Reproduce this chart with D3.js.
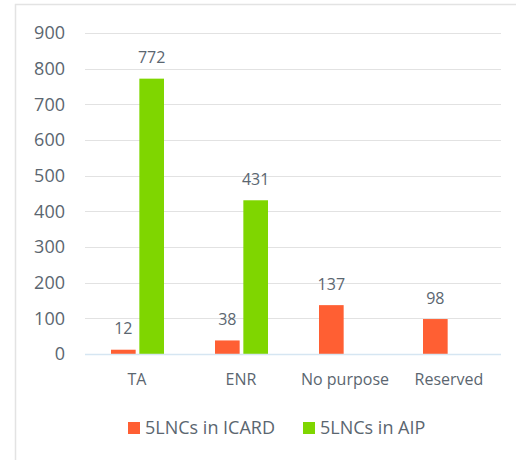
<!DOCTYPE html>
<html lang="en">
<head>
<meta charset="UTF-8">
<title>5LNCs chart</title>
<script src="https://d3js.org/d3.v7.min.js"></script>
<style>
  body { margin: 0; background: #fff; }
  text { font-family: "Open Sans", sans-serif; fill: #5b6670; }
</style>
</head>
<body>
<svg width="516" height="460"></svg>
<script>
const categories = ["TA", "ENR", "No purpose", "Reserved"];
const seriesNames = ["5LNCs in ICARD", "5LNCs in AIP"];
const icard = [12, 38, 137, 98];
const aip = [772, 431, null, null];
const yTicks = [0, 100, 200, 300, 400, 500, 600, 700, 800, 900];
const colors = ["#ff5f33", "#7fd600"];

const svg = d3.select("svg");

// outer frame
svg.append("path")
   .attr("d", "M15.5,460 V4.5 H516")
   .attr("fill", "none")
   .attr("stroke", "#e3e3e3")
   .attr("stroke-width", 1.5);

const x = d3.scaleBand().domain(categories).range([85, 501]);
const y = d3.scaleLinear().domain([0, 900]).range([354, 33]);
const xs = d3.scaleBand().domain(seriesNames).range([26, 79]).paddingInner(0.13);

// gridlines
svg.append("g").selectAll("line")
   .data(yTicks.filter(d => d > 0))
   .join("line")
   .attr("x1", 85).attr("x2", 501)
   .attr("y1", d => Math.round(y(d)) + 0.5).attr("y2", d => Math.round(y(d)) + 0.5)
   .attr("stroke", "#e2e2e2");

// y labels
svg.append("g").selectAll("text")
   .data(yTicks)
   .join("text")
   .attr("x", 65).attr("y", d => y(d))
   .attr("dy", "0.36em")
   .attr("text-anchor", "end")
   .style("font-size", "18px")
   .text(d => d);

const series = [icard, aip];
const bars = [];
series.forEach((vals, si) => vals.forEach((v, ci) => {
  if (v != null) bars.push({s: seriesNames[si], si, c: categories[ci], v});
}));

svg.append("g").selectAll("rect")
   .data(bars)
   .join("rect")
   .attr("x", d => x(d.c) + xs(d.s))
   .attr("width", xs.bandwidth())
   .attr("y", d => y(d.v))
   .attr("height", d => y(0) - y(d.v))
   .attr("fill", d => colors[d.si]);

svg.append("g").selectAll("text")
   .data(bars)
   .join("text")
   .attr("x", d => x(d.c) + xs(d.s) + xs.bandwidth() / 2)
   .attr("y", d => y(d.v) - 21)
   .attr("dy", "0.36em")
   .attr("text-anchor", "middle")
   .style("font-size", "16px")
   .text(d => d.v);

// zero axis line
svg.append("line")
   .attr("x1", 85).attr("x2", 501)
   .attr("y1", y(0) + 0.5).attr("y2", y(0) + 0.5)
   .attr("stroke", "#d6e6f2").attr("stroke-width", 1.5);

// category labels
svg.append("g").selectAll("text")
   .data(categories)
   .join("text")
   .attr("x", d => x(d) + x.bandwidth() / 2)
   .attr("y", 379)
   .attr("dy", "0.36em")
   .attr("text-anchor", "middle")
   .style("font-size", "16px")
   .text(d => d);

// legend
const legend = svg.append("g");
const legX = [128, 303];
seriesNames.forEach((name, i) => {
  legend.append("rect")
        .attr("x", legX[i]).attr("y", 422)
        .attr("width", 12).attr("height", 12)
        .attr("fill", colors[i]);
  legend.append("text")
        .attr("x", legX[i] + 17).attr("y", 428)
        .attr("dy", "0.36em")
        .style("font-size", "18px")
        .text(name);
});
</script>
</body>
</html>
